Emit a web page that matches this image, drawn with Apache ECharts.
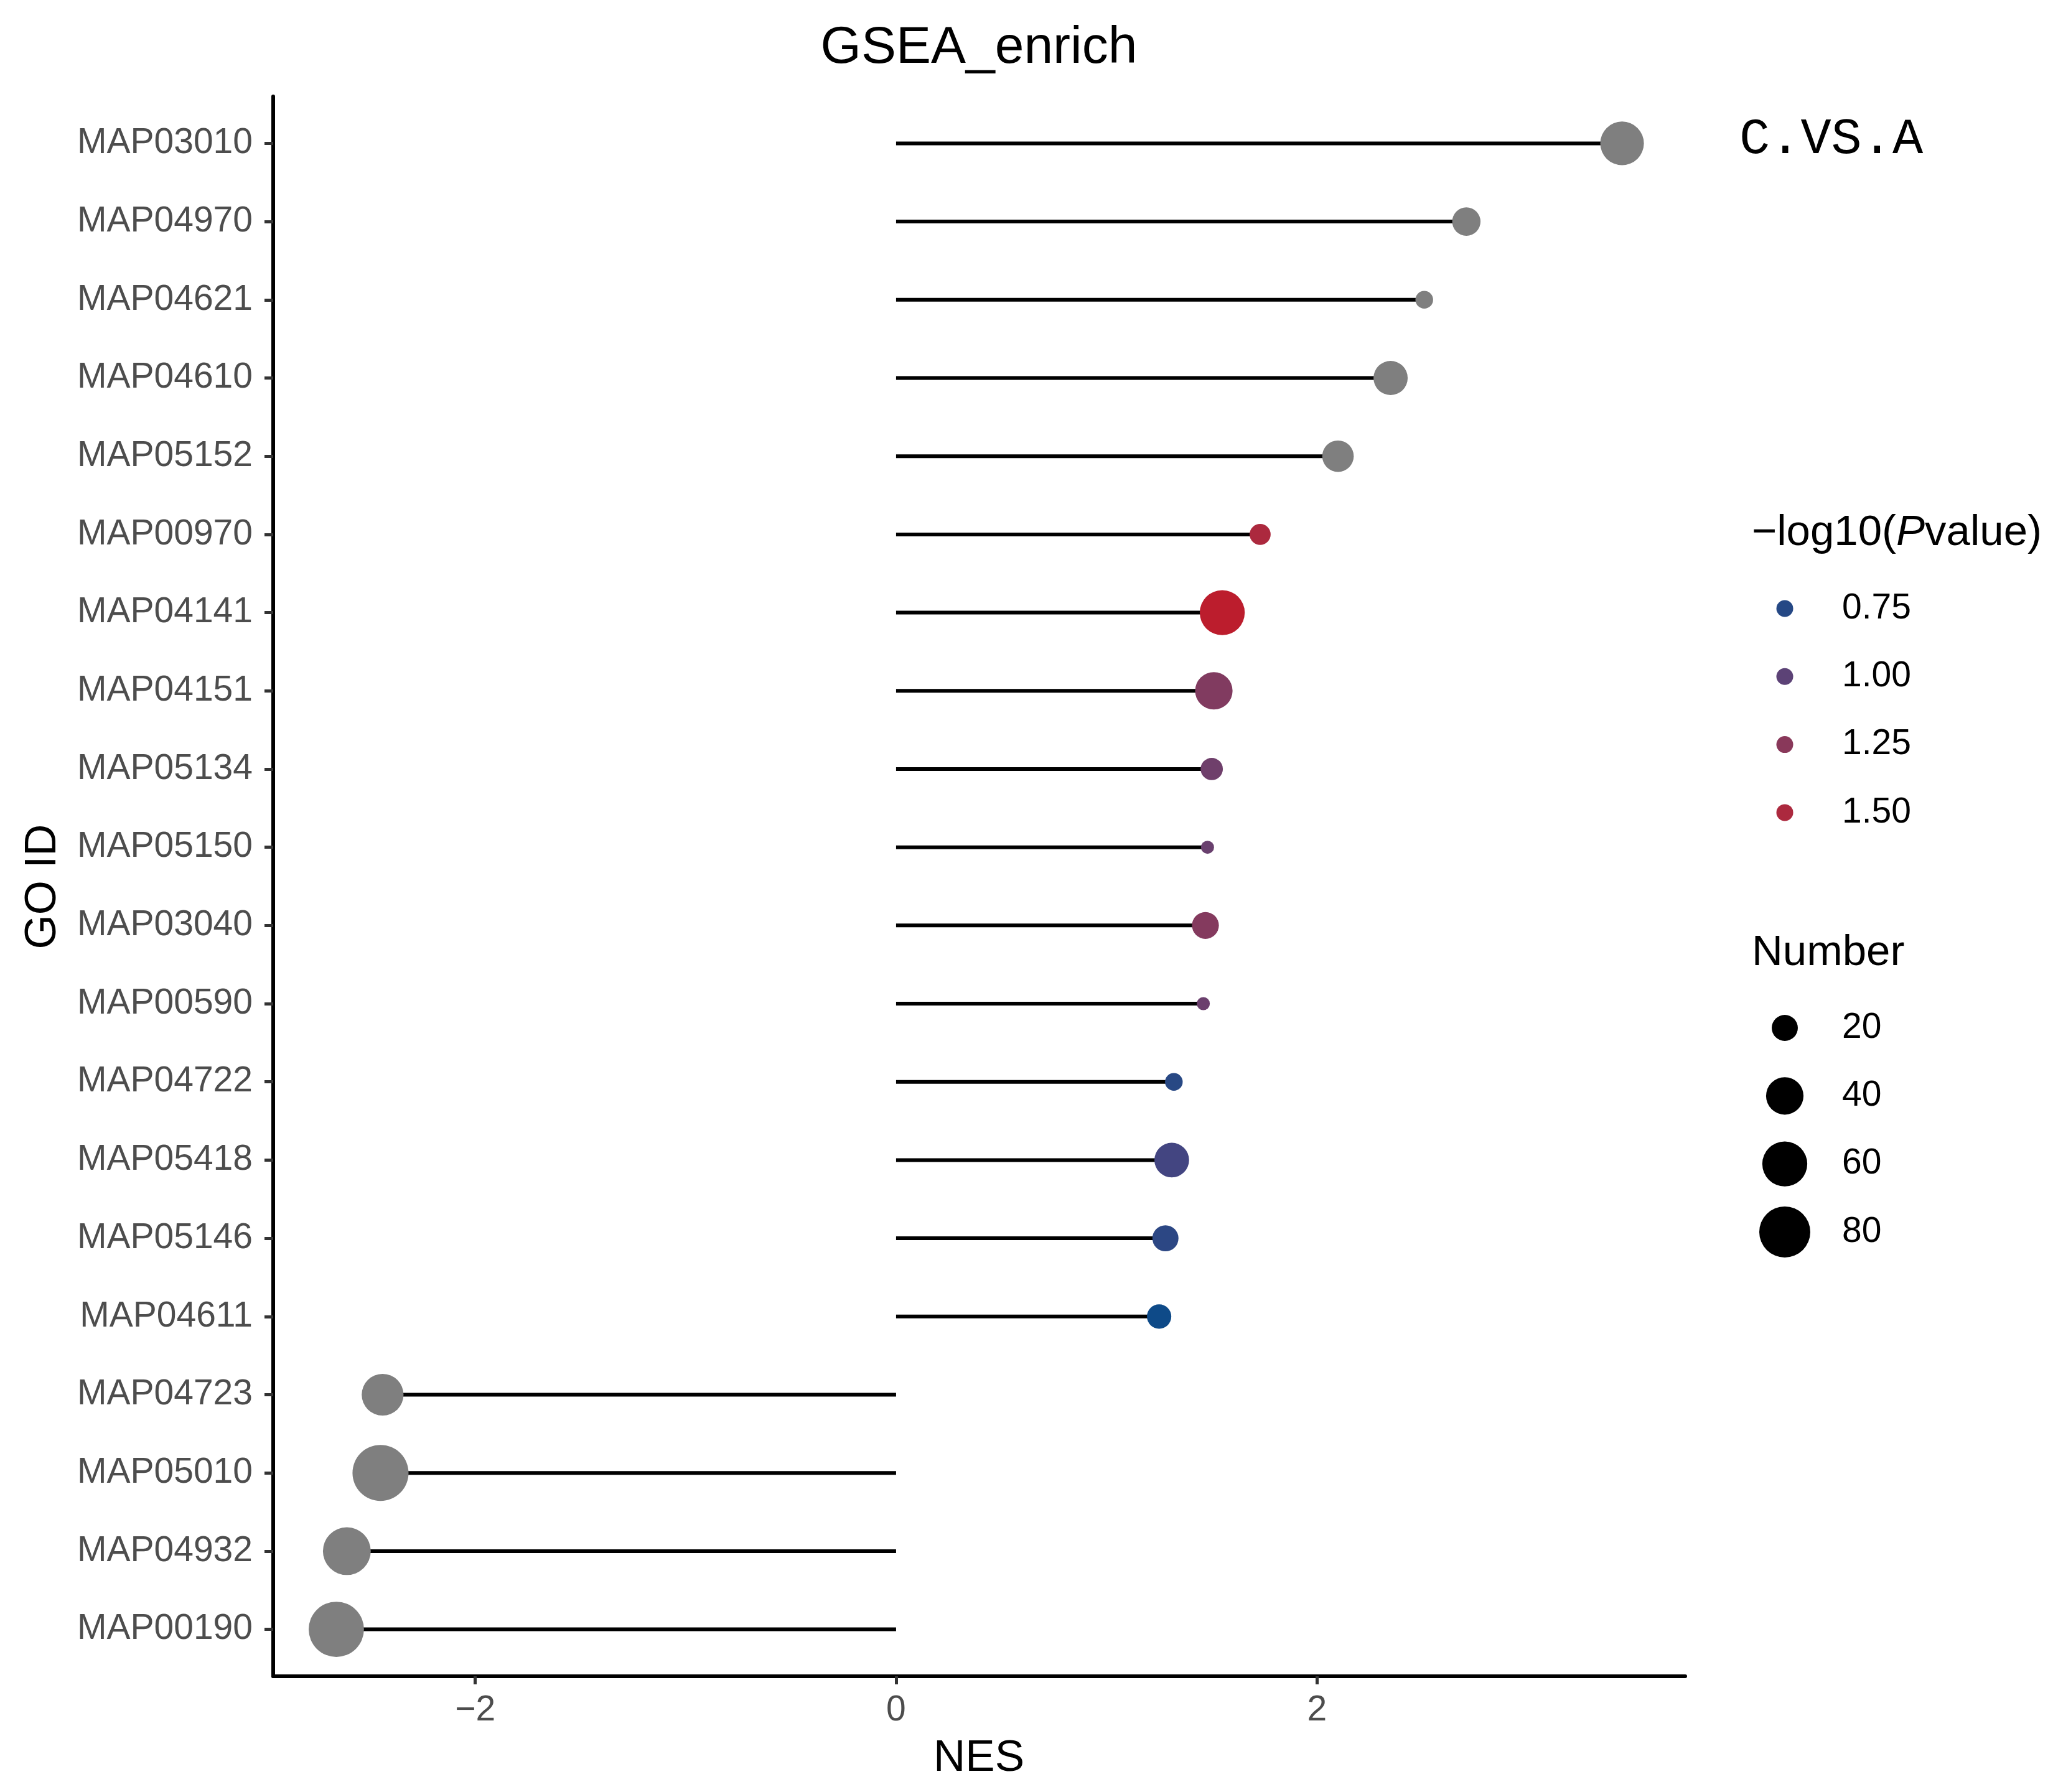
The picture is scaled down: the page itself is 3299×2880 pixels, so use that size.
<!DOCTYPE html>
<html>
<head>
<meta charset="utf-8">
<script src="https://cdn.jsdelivr.net/npm/echarts@6/dist/echarts.min.js"></script>
<style>html,body{margin:0;padding:0;background:#fff}#c{width:3299px;height:2880px}</style>
</head>
<body>
<div id="c"></div>
<script>
// ---- data (top row first) ----
const categories = ['MAP03010','MAP04970','MAP04621','MAP04610','MAP05152','MAP00970','MAP04141','MAP04151','MAP05134','MAP05150',
                    'MAP03040','MAP00590','MAP04722','MAP05418','MAP05146','MAP04611','MAP04723','MAP05010','MAP04932','MAP00190'];
const nes      = [3.45, 2.71, 2.51, 2.35, 2.10, 1.73, 1.55, 1.51, 1.50, 1.48, 1.47, 1.46, 1.32, 1.31, 1.28, 1.25, -2.44, -2.45, -2.61, -2.66];
const number   = [56, 23, 13, 33, 28, 15, 60, 40, 16, 12, 21, 12, 13, 34, 20, 18, 51, 99, 69, 96];
const logP     = [null, null, null, null, null, 1.50, 1.65, 1.20, 1.10, 1.07, 1.22, 1.08, 0.76, 0.88, 0.78, 0.65, null, null, null, null];
const xTicks   = [-2, 0, 2];
const colorLegendValues = [0.75, 1.00, 1.25, 1.50];
const sizeLegendValues  = [20, 40, 60, 80];

// ---- scales ----
const colorMin = 0.65, colorMax = 1.65;
const colorStops = ['#0E4A88', '#484580', '#793D66', '#A23149', '#BC1D2D'];
const naColor = '#7F7F7F';
function dotSize(n) { return 21 + 7.4 * Math.sqrt(Math.max(n - 12, 0)); }
function hex2rgb(h) { return [parseInt(h.slice(1,3),16), parseInt(h.slice(3,5),16), parseInt(h.slice(5,7),16)]; }
function colorAt(v) {
  let t = (v - colorMin) / (colorMax - colorMin);
  t = Math.max(0, Math.min(1, t));
  const pos = t * (colorStops.length - 1);
  const i = Math.min(Math.floor(pos), colorStops.length - 2);
  const f = pos - i;
  const a = hex2rgb(colorStops[i]), b = hex2rgb(colorStops[i + 1]);
  const c = a.map((x, k) => Math.round(x + (b[k] - x) * f));
  return 'rgb(' + c.join(',') + ')';
}

const greyData = [], colorData = [], segData = [];
categories.forEach((c, i) => {
  segData.push([nes[i], i]);
  if (logP[i] === null) greyData.push([nes[i], i, number[i]]);
  else colorData.push([nes[i], i, number[i], logP[i]]);
});

const FONT = '"Liberation Sans", Arial, Helvetica, sans-serif';
const rowIdx = categories.map((c, i) => i);

// ---- titles and legend graphics ----
const graphics = [];
graphics.push({ type: 'text', x: 1573, y: 78, style: { text: 'GSEA_enrich', font: '84px ' + FONT, fill: '#000', align: 'center', verticalAlign: 'middle' } });
graphics.push({ type: 'text', x: 1573, y: 2826, style: { text: 'NES', font: '71px ' + FONT, fill: '#000', align: 'center', verticalAlign: 'middle' } });
graphics.push({ type: 'text', x: 69, y: 1425, rotation: Math.PI / 2, style: { text: 'GO ID', font: '71px ' + FONT, fill: '#000', align: 'center', verticalAlign: 'middle' } });
graphics.push({ type: 'text', x: 2795, y: 224, style: { text: 'C.VS.A', font: '82px "Courier New", "Liberation Mono", monospace', fill: '#000', align: 'left', verticalAlign: 'middle' } });
graphics.push({ type: 'text', x: 2815, y: 857, style: {
  text: '\u2212log10({i|P}value)', font: '69px ' + FONT, fill: '#000', align: 'left', verticalAlign: 'middle',
  rich: { i: { fontStyle: 'italic', fontSize: 69, fontFamily: FONT, fill: '#000' } } } });
colorLegendValues.forEach((v, k) => {
  const y = 978 + k * 109.3;
  graphics.push({ type: 'circle', shape: { cx: 2868, cy: y, r: 13.5 }, style: { fill: colorAt(v) } });
  graphics.push({ type: 'text', x: 2960, y: y, style: { text: v.toFixed(2), font: '57px ' + FONT, fill: '#000', align: 'left', verticalAlign: 'middle' } });
});
graphics.push({ type: 'text', x: 2815, y: 1532, style: { text: 'Number', font: '69px ' + FONT, fill: '#000', align: 'left', verticalAlign: 'middle' } });
sizeLegendValues.forEach((v, k) => {
  const y = 1652 + k * 109.3;
  graphics.push({ type: 'circle', shape: { cx: 2868, cy: y, r: dotSize(v) / 2 }, style: { fill: '#000' } });
  graphics.push({ type: 'text', x: 2960, y: y, style: { text: String(v), font: '57px ' + FONT, fill: '#000', align: 'left', verticalAlign: 'middle' } });
});

const chart = echarts.init(document.getElementById('c'), null, { renderer: 'canvas' });
chart.setOption({
  backgroundColor: '#ffffff',
  animation: false,
  grid: { left: 439, right: 591, top: 155, bottom: 186, containLabel: false },
  xAxis: {
    type: 'value', min: -2.96, max: 3.75,
    axisLine: { show: true, onZero: false, lineStyle: { color: '#000', width: 6 } },
    axisTick: { show: true, customValues: xTicks, length: 13, lineStyle: { color: '#333', width: 5 } },
    axisLabel: { customValues: xTicks, formatter: v => String(v).replace('-', '\u2212'), color: '#4D4D4D', fontSize: 57, fontFamily: FONT, margin: 27 },
    splitLine: { show: false }
  },
  yAxis: {
    type: 'value', inverse: true, min: -0.6, max: 19.6,
    axisLine: { show: true, onZero: false, lineStyle: { color: '#000', width: 6 } },
    axisTick: { show: true, customValues: rowIdx, length: 14, lineStyle: { color: '#333', width: 5 } },
    axisLabel: { customValues: rowIdx, formatter: v => categories[Math.round(v)], color: '#4D4D4D', fontSize: 57, fontFamily: FONT, margin: 33 },
    splitLine: { show: false }
  },
  visualMap: {
    type: 'continuous', show: false, seriesIndex: 2, dimension: 3,
    min: colorMin, max: colorMax, inRange: { color: colorStops }
  },
  series: [
    {
      type: 'custom', z: 1, data: segData,
      renderItem: function (params, api) {
        const a = api.coord([0, api.value(1)]);
        const b = api.coord([api.value(0), api.value(1)]);
        return { type: 'line', shape: { x1: a[0], y1: a[1], x2: b[0], y2: b[1] }, style: { stroke: '#000', lineWidth: 6 } };
      }
    },
    {
      type: 'scatter', z: 3, data: greyData, symbol: 'circle',
      symbolSize: v => dotSize(v[2]), itemStyle: { color: naColor, opacity: 1 }
    },
    {
      type: 'scatter', z: 3, data: colorData, symbol: 'circle',
      symbolSize: v => dotSize(v[2]), itemStyle: { opacity: 1 }
    }
  ],
  graphic: graphics
});
</script>
</body>
</html>
